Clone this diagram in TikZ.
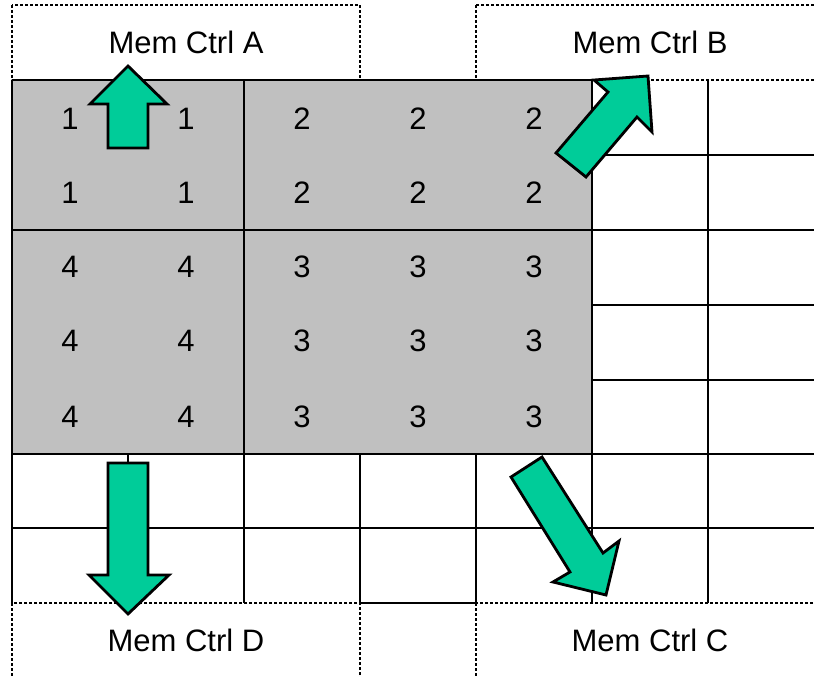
\documentclass[tikz,border=0pt]{standalone}
\usepackage{fontspec}
\setmainfont{Liberation Sans}
\definecolor{cellgray}{RGB}{192,192,192}
\definecolor{arrowgreen}{RGB}{0,204,153}
\begin{document}
\begin{tikzpicture}[x=1pt,y=-1pt,
  gridline/.style={line width=1.4pt, black},
  ctrlbox/.style={draw=black, line width=1.1pt, dash pattern=on 3pt off 2pt},
  blockarrow/.style={fill=arrowgreen, draw=black, line width=2.8pt, line join=miter},
  num/.style={font=\fontsize{31}{36}\selectfont, anchor=base, inner sep=0pt},
  lbl/.style={font=\fontsize{31}{36}\selectfont, anchor=base, inner sep=0pt}]
\useasboundingbox (0,0) rectangle (814,676);
% gray block
\fill[cellgray] (12,80) rectangle (592,454);
% controller boxes (dashed)
\draw[ctrlbox] (12,5) rectangle (360,80);
\draw[ctrlbox] (476,5) rectangle (830,80);
\draw[ctrlbox] (12,603) rectangle (360,700);
\draw[ctrlbox] (476,603) rectangle (830,700);
% grid lines
\draw[gridline] (12,80) -- (12,603);
\draw[gridline] (244,80) -- (244,603);
\draw[gridline] (592,80) -- (592,603);
\draw[gridline] (708,80) -- (708,603);
\draw[gridline] (128,454) -- (128,603);
\draw[gridline] (360,454) -- (360,603);
\draw[gridline] (476,454) -- (476,603);
\draw[gridline] (12,80) -- (592,80);
\draw[gridline] (12,230) -- (814,230);
\foreach \yy in {155,305,380} \draw[gridline] (592,\yy) -- (814,\yy);
\foreach \yy in {454,528} \draw[gridline] (12,\yy) -- (814,\yy);
\draw[gridline] (360,603) -- (476,603);
% labels
\node[lbl] (ctrlA) at (186,54) {Mem Ctrl A};
\node[lbl] (ctrlB) at (650,54) {Mem Ctrl B};
\node[lbl] (ctrlD) at (186,651) {Mem Ctrl D};
\node[lbl] (ctrlC) at (650,651) {Mem Ctrl C};
% numbers
\foreach \r/\yy in {1/130,2/204}{
  \foreach \c/\xx/\v in {1/70/1,2/186/1,3/302/2,4/418/2,5/534/2}
    \node[num] (n-\r-\c) at (\xx,\yy) {\v};
}
\foreach \r/\yy in {3/278,4/352,5/427}{
  \foreach \c/\xx/\v in {1/70/4,2/186/4,3/302/3,4/418/3,5/534/3}
    \node[num] (n-\r-\c) at (\xx,\yy) {\v};
}
% block arrows
\draw[blockarrow] (108,148) -- (108,104) -- (90,104) -- (128,66) -- (167,104) -- (148,104) -- (148,148) -- cycle;
\draw[blockarrow] (108,463) -- (148,463) -- (148,575) -- (169,575) -- (128,614) -- (89,575) -- (108,575) -- cycle;
\draw[blockarrow] (556,153) -- (608,92) -- (594,80) -- (648,76) -- (652,132) -- (637,117) -- (586,177) -- cycle;
\draw[blockarrow] (542,457) -- (511,477) -- (570,572) -- (553,582) -- (606,595) -- (619,541) -- (603,553) -- cycle;
\end{tikzpicture}
\end{document}
